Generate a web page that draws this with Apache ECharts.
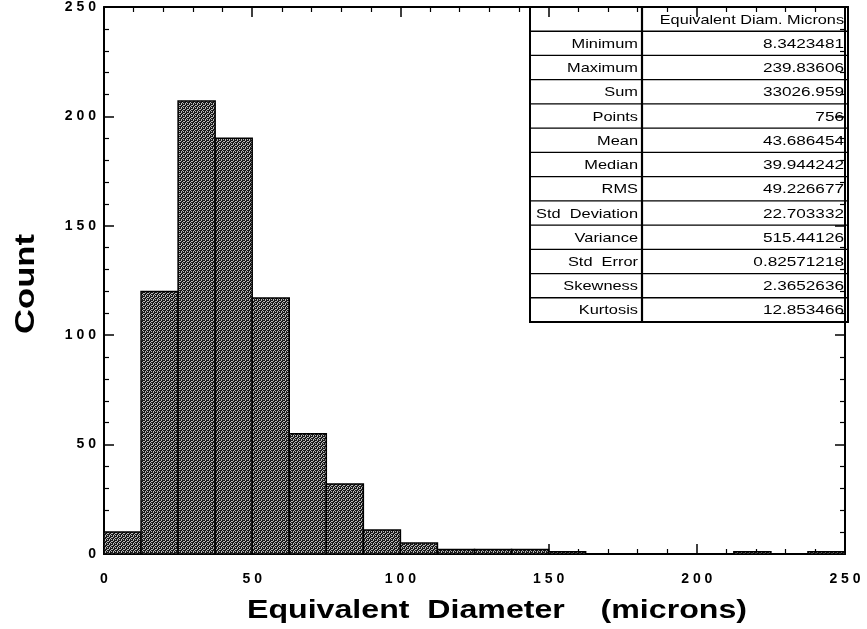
<!DOCTYPE html>
<html>
<head>
<meta charset="utf-8">
<script src="https://cdn.jsdelivr.net/npm/echarts@6/dist/echarts.min.js"></script>
<style>
html,body{margin:0;padding:0;background:#fff;}
#chart{width:867px;height:629px;}
</style>
</head>
<body>
<div id="chart"></div>
<script>
// ---- data ----
const binWidth = 12.5;
const counts = [10, 120, 207, 190, 117, 55, 32, 11, 5, 2, 2, 2, 1, 0, 0, 0, 0, 1, 0, 1];
const xTicks = [0, 50, 100, 150, 200, 250];
const yTicks = [0, 50, 100, 150, 200, 250];
const statLabels = ['Minimum','Maximum','Sum','Points','Mean','Median','RMS','Std  Deviation','Variance','Std  Error','Skewness','Kurtosis'];
const statValues = ['8.3423481','239.83606','33026.959','756','43.686454','39.944242','49.226677','22.703332','515.44126','0.82571218','2.3652636','12.853466'];
const statHeader = 'Equivalent Diam. Microns';
const xTitle = 'Equivalent  Diameter    (microns)';
const yTitle = 'Count';

const histData = counts.map((c, i) => [i * binWidth, (i + 1) * binWidth, c]);
const spaced = v => String(v).split('').join(' ');

// dither-like fill pattern
const pat = document.createElement('canvas');
pat.width = 4; pat.height = 4;
(function () {
  const c = pat.getContext('2d');
  const img = c.createImageData(4, 4);
  const map = [
    [0, 1, 0, 0],
    [1, 0, 0, 1],
    [0, 0, 1, 0],
    [0, 1, 0, 1]
  ];
  for (let y = 0; y < 4; y++) for (let x = 0; x < 4; x++) {
    const v = map[y][x] ? 185 : 25;
    const k = (y * 4 + x) * 4;
    img.data[k] = v; img.data[k + 1] = v; img.data[k + 2] = v; img.data[k + 3] = 255;
  }
  c.putImageData(img, 0, 0);
})();

function measure(text, font) {
  const c = document.createElement('canvas').getContext('2d');
  c.font = font;
  return c.measureText(text).width;
}

const chart = echarts.init(document.getElementById('chart'), null, {renderer: 'canvas'});

const gridL = 104, gridR = 22, gridT = 7, gridB = 75;
const labelFont = {color: '#000', fontFamily: 'Liberation Sans, Arial', fontWeight: 'bold', fontSize: 14};

function axisCommon() {
  return {
    type: 'value', min: 0, max: 250, interval: 50,
    axisLine: {show: true, onZero: false, lineStyle: {color: '#000', width: 2}},
    axisTick: {show: true, inside: true, length: 10, lineStyle: {color: '#000', width: 1.5}},
    minorTick: {show: true, splitNumber: 5, length: 5, lineStyle: {color: '#000', width: 1.2}},
    splitLine: {show: false},
    axisLabel: {show: false}
  };
}

// stats table graphics
const tL = 530, tR = 848, tT = 7, tB = 322, tMid = 642;
const nRows = statLabels.length + 1;
const rowH = (tB - tT) / nRows;
const tableEls = [];
tableEls.push({type: 'rect', shape: {x: tL, y: tT, width: tR - tL, height: tB - tT}, style: {fill: '#fff', stroke: '#000', lineWidth: 2}});
for (let r = 1; r < nRows; r++) {
  const y = tT + r * rowH;
  tableEls.push({type: 'line', shape: {x1: tL, y1: y, x2: tR, y2: y}, style: {stroke: '#000', lineWidth: 1.3}});
}
tableEls.push({type: 'line', shape: {x1: tMid, y1: tT, x2: tMid, y2: tB}, style: {stroke: '#000', lineWidth: 2.2}});
const tFont = '13px "Liberation Sans", Arial';
tableEls.push({type: 'text', x: tR - 4, y: tT + rowH / 2 + 1, scaleX: 1.25, style: {text: statHeader, font: tFont, fill: '#000', textAlign: 'right', textVerticalAlign: 'middle'}});
statLabels.forEach((lab, i) => {
  const cy = tT + (i + 1.5) * rowH + 1;
  tableEls.push({type: 'text', x: tMid - 4, y: cy, scaleX: 1.26, style: {text: lab, font: tFont, fill: '#000', textAlign: 'right', textVerticalAlign: 'middle'}});
  tableEls.push({type: 'text', x: tR - 4, y: cy, scaleX: 1.32, style: {text: statValues[i], font: tFont, fill: '#000', textAlign: 'right', textVerticalAlign: 'middle'}});
});

// titles (horizontally stretched bold text like the original)
const xtFont = 'bold 25px "Liberation Sans", Arial';
const xtScale = 500 / measure(xTitle, xtFont);
const ytFont = 'bold 27px "Liberation Sans", Arial';
const ytScale = 100 / measure(yTitle, ytFont);
const titleEls = [
  {type: 'text', x: 497, y: 611, scaleX: xtScale, style: {text: xTitle, font: xtFont, fill: '#000', textAlign: 'center', textVerticalAlign: 'middle'}},
  {type: 'text', x: 27, y: 284, rotation: Math.PI / 2, scaleX: ytScale, style: {text: yTitle, font: ytFont, fill: '#000', textAlign: 'center', textVerticalAlign: 'middle'}}
];

const option = {
  backgroundColor: '#fff',
  animation: false,
  grid: {left: gridL, right: gridR, top: gridT, bottom: gridB, containLabel: false},
  xAxis: [
    Object.assign(axisCommon(), {
      position: 'bottom',
      axisLabel: Object.assign({show: true, margin: 18, formatter: spaced}, labelFont)
    }),
    Object.assign(axisCommon(), {position: 'top'})
  ],
  yAxis: [
    Object.assign(axisCommon(), {
      position: 'left',
      axisLabel: Object.assign({show: true, margin: 8, formatter: spaced}, labelFont)
    }),
    Object.assign(axisCommon(), {position: 'right'})
  ],
  series: [{
    type: 'custom',
    coordinateSystem: 'cartesian2d',
    xAxisIndex: 0, yAxisIndex: 0,
    data: histData,
    renderItem: function (params, api) {
      const p0 = api.coord([api.value(0), api.value(2)]);
      const p1 = api.coord([api.value(1), 0]);
      return {
        type: 'rect',
        shape: {x: p0[0], y: p0[1], width: p1[0] - p0[0], height: p1[1] - p0[1]},
        style: {fill: {image: pat, repeat: 'repeat'}, stroke: '#000', lineWidth: 1.5}
      };
    },
    z: 2
  }],
  graphic: [
    {type: 'group', z: 100, children: tableEls},
    {type: 'group', z: 100, children: titleEls}
  ]
};
chart.setOption(option);
</script>
</body>
</html>
